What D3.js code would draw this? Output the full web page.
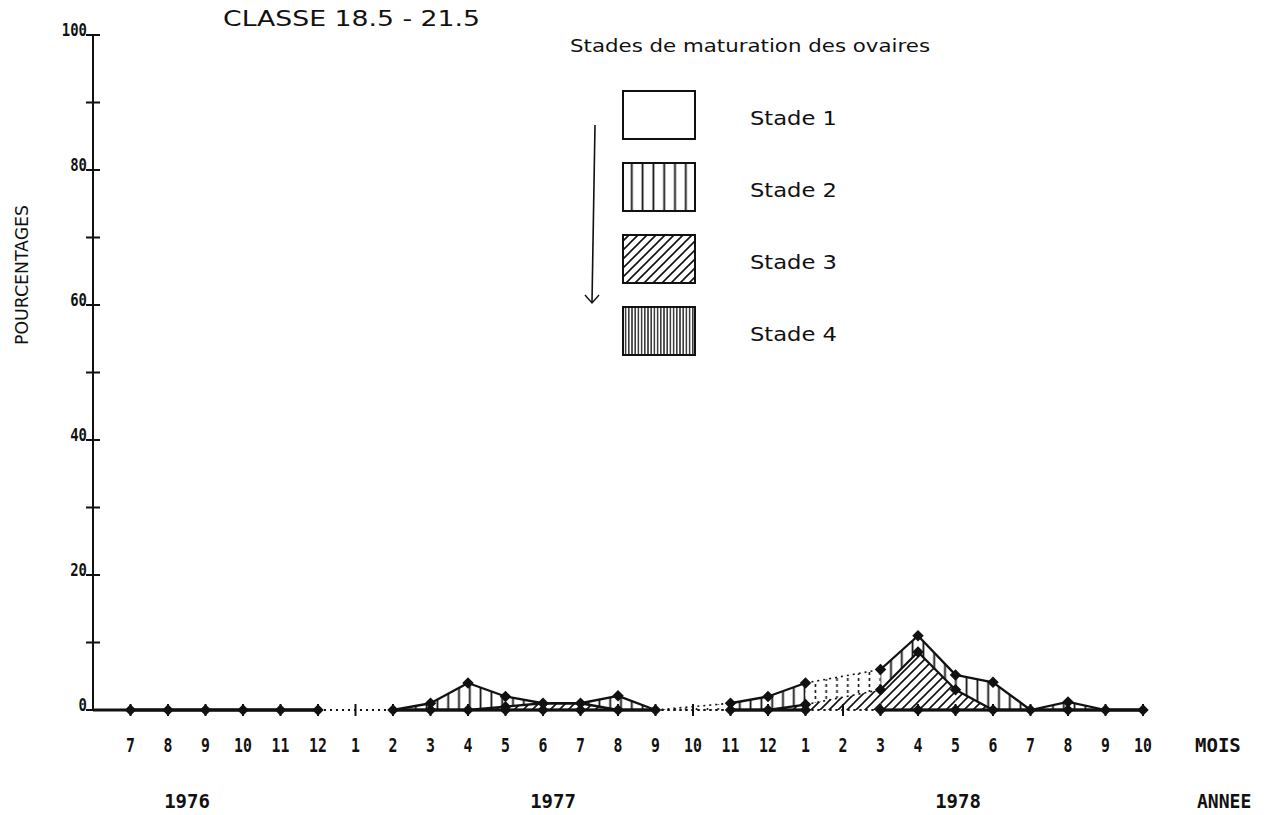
<!DOCTYPE html>
<html>
<head>
<meta charset="utf-8">
<title>Classe 18.5 - 21.5 : stades de maturation des ovaires</title>
<script src="https://cdn.jsdelivr.net/npm/d3@7"></script>
<style>
  html, body { margin: 0; padding: 0; background: #fff; }
  svg { display: block; }
  .plot { font-family: "DejaVu Sans Mono", monospace; font-weight: bold; fill: #111; }
  .txt  { font-family: "DejaVu Sans", sans-serif; fill: #111; }
</style>
</head>
<body>
<svg id="chart" width="1276" height="815"></svg>
<script>
// Months sampled, July 1976 to October 1978
const months = [7, 8, 9, 10, 11, 12, 1, 2, 3, 4, 5, 6, 7, 8, 9, 10, 11, 12, 1, 2, 3, 4, 5, 6, 7, 8, 9, 10];
const years = ["1976", "1977", "1978"];

// Percentage of females at each ovarian stage (null = no sample that month)
const stade2 = [0, 0, 0, 0, 0, 0, null, 0, 1.0, 4.0, 1.5, 0, 0, 2.1, 0, null, 1.0, 2.0, 3.2, null, 3.0, 2.4, 2.2, 4.1, 0, 1.2, 0, 0];
const stade3 = [0, 0, 0, 0, 0, 0, null, 0, 0, 0, 0.5, 1.0, 1.0, 0, 0, null, 0, 0, 0.8, null, 3.0, 8.6, 3.0, 0, 0, 0, 0, 0];
const stade4 = [0, 0, 0, 0, 0, 0, null, 0, 0, 0, 0, 0, 0, 0, 0, null, 0, 0, 0, null, 0, 0, 0, 0, 0, 0, 0, 0];

const yTicks = [0, 10, 20, 30, 40, 50, 60, 70, 80, 90, 100];
const stageNames = ["Stade  1", "Stade  2", "Stade  3", "Stade  4"];

const svg = d3.select("#chart");
svg.append("rect").attr("width", 1276).attr("height", 815).attr("fill", "#fff");

// ---- hatch patterns ----
const defs = svg.append("defs");
function vPattern(id, w, sw, dash) {
  const p = defs.append("pattern").attr("id", id).attr("patternUnits", "userSpaceOnUse")
    .attr("width", w).attr("height", 12);
  const l = p.append("line").attr("x1", w / 2).attr("x2", w / 2).attr("y1", 0).attr("y2", 12)
    .attr("stroke", "#111").attr("stroke-width", sw);
  if (dash) l.attr("stroke-dasharray", dash);
}
vPattern("hatch2", 10.8, 1.8, null);
vPattern("hatch2gap", 10.8, 1.6, "3,3");
vPattern("hatch4", 3.2, 1.3, null);
vPattern("hatch4gap", 3.2, 1.3, "3,3");
function dPattern(id) {
  const s = 9;
  const p = defs.append("pattern").attr("id", id).attr("patternUnits", "userSpaceOnUse")
    .attr("width", s).attr("height", s);
  p.append("path").attr("d", `M0,${s} L${s},0 M${-s / 2},${s / 2} L${s / 2},${-s / 2} M${s / 2},${s * 1.5} L${s * 1.5},${s / 2}`)
    .attr("stroke", "#111").attr("stroke-width", 1.6).attr("fill", "none");
}
dPattern("hatch3");
dPattern("hatch3gap");

// ---- scales ----
const x = d3.scaleLinear().domain([-1, 27]).range([93, 1143]);
const y = d3.scaleLinear().domain([0, 100]).range([710, 35]);
const axisX = x(-1);

// ---- cumulative levels (stage 4 at the bottom, stage 2 on top) ----
const present = d3.range(months.length).filter(i => stade2[i] != null);
const lvl0 = months.map((m, i) => stade4[i] == null ? null : 0);
const lvl1 = months.map((m, i) => stade4[i] == null ? null : stade4[i]);
const lvl2 = months.map((m, i) => stade4[i] == null ? null : stade4[i] + stade3[i]);
const lvl3 = months.map((m, i) => stade4[i] == null ? null : stade4[i] + stade3[i] + stade2[i]);
const bands = [
  { lo: lvl0, hi: lvl1, fill: "hatch4", gapFill: "hatch4gap" },
  { lo: lvl1, hi: lvl2, fill: "hatch3", gapFill: "hatch3gap" },
  { lo: lvl2, hi: lvl3, fill: "hatch2", gapFill: "hatch2gap" }
];
const levels = [lvl0, lvl1, lvl2, lvl3];

const segments = [];
for (let k = 0; k < present.length - 1; k++) {
  const i = present[k], j = present[k + 1];
  segments.push({ i, j, gap: j - i > 1 });
}

const area = d3.area().x(d => x(d.i)).y0(d => y(d.lo)).y1(d => y(d.hi));
const line = d3.line().x(d => x(d.i)).y(d => y(d.v));

const gAreas = svg.append("g");
bands.forEach(b => {
  segments.forEach(s => {
    if (b.hi[s.i] - b.lo[s.i] <= 0 && b.hi[s.j] - b.lo[s.j] <= 0) return;
    gAreas.append("path")
      .datum([{ i: s.i, lo: b.lo[s.i], hi: b.hi[s.i] }, { i: s.j, lo: b.lo[s.j], hi: b.hi[s.j] }])
      .attr("d", area)
      .attr("fill", `url(#${s.gap ? b.gapFill : b.fill})`)
      .attr("stroke", "none");
  });
});

// ---- axes ----
const gAxis = svg.append("g").attr("stroke", "#111");
gAxis.append("line").attr("x1", axisX).attr("x2", axisX).attr("y1", y(100)).attr("y2", y(0))
  .attr("stroke-width", 2);
gAxis.append("line").attr("x1", axisX).attr("x2", x(0)).attr("y1", y(0)).attr("y2", y(0))
  .attr("stroke-width", 2.8);
yTicks.forEach(v => {
  gAxis.append("line").attr("x1", axisX - 7).attr("x2", axisX + 7).attr("y1", y(v)).attr("y2", y(v))
    .attr("stroke-width", 2);
});
months.forEach((m, i) => {
  gAxis.append("line").attr("x1", x(i)).attr("x2", x(i)).attr("y1", y(0) - 6).attr("y2", y(0) + 6)
    .attr("stroke-width", 2);
});

// condensed plotter-style labels
function plotText(g, tx, ty, size, anchor, str, sx) {
  return g.append("text").attr("class", "plot").attr("font-size", size).attr("text-anchor", anchor)
    .attr("transform", `translate(${tx},${ty}) scale(${sx},1)`).text(str);
}
const gLab = svg.append("g");
yTicks.filter(v => v % 20 === 0).forEach(v => plotText(gLab, axisX - 6, y(v) + 1, 17, "end", v, 0.82));
months.forEach((m, i) => plotText(gLab, x(i), 752, 19, "middle", m, 0.78));

// year captions under the month row
const yearLabelX = [187, 553, 958];
years.forEach((yr, i) => plotText(gLab, yearLabelX[i], 808, 19, "middle", yr, 1));
plotText(gLab, 1195, 752, 19, "start", "MOIS", 1);
plotText(gLab, 1197, 808, 19, "start", "ANNEE", 0.95);

svg.append("text").attr("class", "txt").attr("font-size", 17)
  .attr("transform", "translate(28,345) rotate(-90)")
  .attr("textLength", 140).attr("lengthAdjust", "spacingAndGlyphs").text("POURCENTAGES");

// ---- data lines (dotted across months without samples) ----
const gLines = svg.append("g").attr("fill", "none").attr("stroke", "#111");
levels.forEach((L, li) => {
  segments.forEach(s => {
    gLines.append("path")
      .datum([{ i: s.i, v: L[s.i] }, { i: s.j, v: L[s.j] }])
      .attr("d", line)
      .attr("stroke-width", s.gap ? 1.6 : (li === 0 ? 2.8 : 2.3))
      .attr("stroke-dasharray", s.gap ? "2,4" : null);
  });
});

// ---- point markers ----
const marker = d3.symbol().type(d3.symbolSquare).size(66);
const gMarks = svg.append("g").attr("fill", "#111");
present.forEach(i => {
  const vals = Array.from(new Set(levels.map(L => L[i])));
  vals.forEach(v => {
    gMarks.append("path").attr("d", marker)
      .attr("transform", `translate(${x(i)},${y(v)}) rotate(45)`);
  });
});

// ---- title ----
svg.append("text").attr("class", "txt").attr("font-size", 22)
  .attr("x", 223).attr("y", 26).attr("textLength", 257).attr("lengthAdjust", "spacingAndGlyphs")
  .text("CLASSE  18.5 - 21.5");

// ---- legend ----
svg.append("text").attr("class", "txt").attr("font-size", 17)
  .attr("x", 570).attr("y", 52).attr("textLength", 360).attr("lengthAdjust", "spacingAndGlyphs")
  .text("Stades de maturation des ovaires");

const legendFills = ["#fff", "url(#hatch2)", "url(#hatch3)", "url(#hatch4)"];
const gLeg = svg.append("g");
stageNames.forEach((name, k) => {
  const top = 91 + k * 72;
  gLeg.append("rect").attr("x", 623).attr("y", top).attr("width", 72).attr("height", 48)
    .attr("fill", legendFills[k]).attr("stroke", "#111").attr("stroke-width", 2);
  gLeg.append("text").attr("class", "txt").attr("font-size", 20)
    .attr("x", 750).attr("y", top + 34).attr("textLength", 87).attr("lengthAdjust", "spacingAndGlyphs")
    .text(name);
});

// arrow: stages run from 1 down to 4
gLeg.append("path").attr("d", "M595,125 L592,302").attr("stroke", "#111").attr("stroke-width", 1.6).attr("fill", "none");
gLeg.append("path").attr("d", "M585,295 L592,303 L599,295").attr("stroke", "#111").attr("stroke-width", 1.4).attr("fill", "none");
</script>
</body>
</html>
